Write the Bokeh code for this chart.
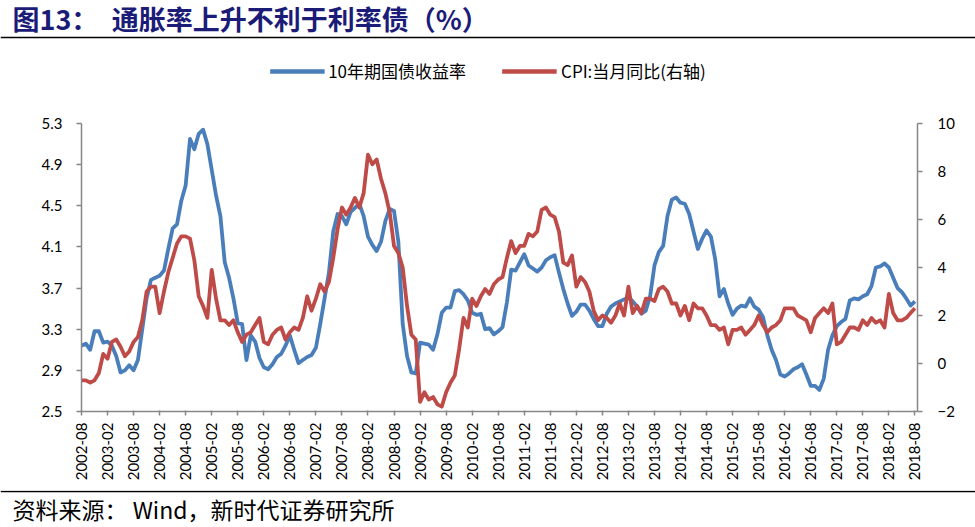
from bokeh.plotting import figure
from bokeh.models import (Range1d, LinearAxis, FixedTicker, Legend, LegendItem, Label, Span)
from bokeh.layouts import column
from bokeh.embed import file_html
from bokeh.resources import INLINE
import math

# ---------------- data ----------------
yield_10y = [
    3.14, 3.16, 3.10, 3.28, 3.28,
    3.17, 3.18, 3.14, 3.04, 2.88, 2.90, 2.95, 2.90, 3.00, 3.30, 3.60, 3.78,
    3.80, 3.82, 3.87, 4.08, 4.28, 4.32, 4.55, 4.70, 5.15, 5.05, 5.20, 5.24,
    5.10, 4.85, 4.60, 4.40, 3.95, 3.80, 3.60, 3.36, 3.35, 3.00, 3.24, 3.18,
    3.02, 2.93, 2.91, 2.96, 3.03, 3.06, 3.14, 3.24, 3.10, 2.97, 3.00, 3.03,
    3.05, 3.12, 3.35, 3.60, 3.85, 4.25, 4.42, 4.40, 4.32, 4.44, 4.48, 4.52,
    4.40, 4.20, 4.12, 4.06, 4.15, 4.35, 4.47, 4.45, 4.15, 3.35, 3.04, 2.88,
    2.87, 3.17, 3.16, 3.15, 3.10, 3.25, 3.46, 3.51, 3.51, 3.67, 3.68, 3.64,
    3.58, 3.46, 3.44, 3.45, 3.30, 3.31, 3.25, 3.28, 3.32, 3.56, 3.88, 3.87,
    3.95, 4.03, 3.92, 3.89, 3.86, 3.90, 3.97, 4.00, 4.02, 3.85, 3.69, 3.55,
    3.43, 3.47, 3.54, 3.54, 3.48, 3.40, 3.33, 3.33, 3.45, 3.52, 3.55, 3.57,
    3.59, 3.61, 3.57, 3.52, 3.45, 3.48, 3.62, 3.92, 4.05, 4.11, 4.40, 4.56,
    4.58, 4.53, 4.52, 4.42, 4.25, 4.08, 4.18, 4.26, 4.20, 3.98, 3.62, 3.69,
    3.55, 3.44, 3.50, 3.53, 3.52, 3.60, 3.52, 3.49, 3.42, 3.24, 3.10, 3.00,
    2.86, 2.84, 2.87, 2.91, 2.93, 2.96, 2.86, 2.75, 2.75, 2.71, 2.82, 3.10,
    3.24, 3.33, 3.37, 3.40, 3.58, 3.60, 3.59, 3.62, 3.64, 3.72, 3.90, 3.91,
    3.94, 3.90, 3.80, 3.70, 3.66, 3.60, 3.53, 3.57,
]
cpi_yoy = [
    -0.7, -0.7, -0.8, -0.7, -0.4,
    0.4, 0.2, 0.9, 1.0, 0.7, 0.3, 0.5, 0.9, 1.1, 1.8, 3.0, 3.2,
    3.2, 2.1, 3.0, 3.8, 4.4, 5.0, 5.3, 5.3, 5.2, 4.3, 2.8, 2.4,
    1.9, 3.9, 2.7, 1.8, 1.8, 1.6, 1.8, 1.3, 0.9, 1.2, 1.3, 1.6,
    1.9, 0.9, 0.8, 1.2, 1.4, 1.5, 1.0, 1.3, 1.5, 1.4, 1.9, 2.8,
    2.2, 2.7, 3.3, 3.0, 3.4, 4.4, 5.6, 6.5, 6.2, 6.5, 6.9, 6.5,
    7.1, 8.7, 8.3, 8.5, 7.7, 7.1, 6.3, 4.9, 4.6, 4.0, 2.4, 1.2,
    1.0, -1.6, -1.2, -1.5, -1.4, -1.7, -1.8, -1.2, -0.8, -0.5, 0.6, 1.9,
    1.5, 2.7, 2.4, 2.8, 3.1, 2.9, 3.3, 3.5, 3.6, 4.4, 5.1, 4.6,
    4.9, 4.9, 5.4, 5.3, 5.5, 6.4, 6.5, 6.2, 6.1, 5.5, 4.2, 4.1,
    4.5, 3.2, 3.6, 3.4, 3.0, 2.2, 1.8, 2.0, 1.9, 1.7, 2.0, 2.5,
    2.0, 3.2, 2.1, 2.4, 2.1, 2.7, 2.7, 2.6, 3.1, 3.2, 3.0, 2.5,
    2.5, 2.0, 2.4, 1.8, 2.5, 2.3, 2.3, 2.0, 1.6, 1.6, 1.4, 1.5,
    0.8, 1.4, 1.4, 1.5, 1.2, 1.4, 1.6, 2.0, 1.6, 1.3, 1.5, 1.6,
    1.8, 2.3, 2.3, 2.3, 2.0, 1.9, 1.8, 1.3, 1.9, 2.1, 2.3, 2.1,
    2.5, 0.8, 0.9, 1.2, 1.5, 1.5, 1.4, 1.8, 1.6, 1.9, 1.7, 1.8,
    1.5, 2.9, 2.1, 1.8, 1.8, 1.9, 2.1, 2.3,
]
x_tick_labels = [
    "2002-08", "2003-02", "2003-08", "2004-02", "2004-08", "2005-02", "2005-08",
    "2006-02", "2006-08", "2007-02", "2007-08", "2008-02", "2008-08", "2009-02",
    "2009-08", "2010-02", "2010-08", "2011-02", "2011-08", "2012-02", "2012-08",
    "2013-02", "2013-08", "2014-02", "2014-08", "2015-02", "2015-08", "2016-02",
    "2016-08", "2017-02", "2017-08", "2018-02", "2018-08",
]
left_ticks = [2.5, 2.9, 3.3, 3.7, 4.1, 4.5, 4.9, 5.3]
right_ticks = [-2, 0, 2, 4, 6, 8, 10]
series_names = ["10年期国债收益率", "CPI:当月同比(右轴)"]
title_text = "图13：\u2002通胀率上升不利于利率债（%）"
source_text = "资料来源： Wind，新时代证券研究所"

months = list(range(len(yield_10y)))
tick_pos = list(range(0, len(yield_10y), 6))

BLUE = "#4A7EBB"
RED = "#BE4B48"
AXIS = "#878787"
FONT = "Lato"
CJK = "Noto Sans CJK SC"
W = 975
HEAD_H = 83
MAIN_H = 407
FOOT_H = 37

# ---------------- header: title, rule, legend ----------------
head = figure(width=W, height=HEAD_H, output_backend="svg", toolbar_location=None,
              x_range=Range1d(0, 1), y_range=Range1d(0, 1),
              x_axis_type=None, y_axis_type=None, frame_align=False,
              min_border_left=0, min_border_right=0, min_border_top=0, min_border_bottom=0)
head.outline_line_color = None
head.grid.visible = False
head.add_layout(Label(x=12, y=HEAD_H - 18, x_units="screen", y_units="screen", text=title_text,
                      text_font=CJK, text_font_style="bold", text_font_size="27px",
                      text_color="#1b1b78", text_baseline="middle", text_align="left"))
head.add_layout(Span(location=HEAD_H - 37, location_units="screen", dimension="width",
                     line_color="#000000", line_width=1.5))
# legend proxies: the same series, lying outside this strip's (0..1) ranges
h1 = head.line(months, yield_10y, line_color=BLUE, line_width=4.5)
h2 = head.line(months, cpi_yoy, line_color=RED, line_width=4.5)
legend = Legend(items=[LegendItem(label=series_names[0], renderers=[h1]),
                       LegendItem(label=series_names[1], renderers=[h2])],
                orientation="horizontal", location="bottom_center",
                glyph_width=55, glyph_height=16, label_standoff=4, spacing=36,
                padding=0, margin=0, border_line_alpha=0, background_fill_alpha=0,
                label_text_font=CJK, label_text_font_size="17px", label_text_color="#000000")
head.add_layout(legend, "center")

# ---------------- main chart ----------------
p = figure(width=W, height=MAIN_H, output_backend="svg", toolbar_location=None,
           x_range=Range1d(0, 192.6), y_range=Range1d(2.5, 5.3), frame_align=False,
           min_border_left=81, min_border_right=58, min_border_top=40, min_border_bottom=79)
p.extra_y_ranges = {"cpi": Range1d(-2, 10)}
p.outline_line_color = None
p.xgrid.visible = False
p.ygrid.visible = False

p.line(months, yield_10y, line_color=BLUE, line_width=3.8, line_join="round")
p.line(months, cpi_yoy, line_color=RED, line_width=3.8, line_join="round", y_range_name="cpi")

xa = p.xaxis[0]
xa.ticker = FixedTicker(ticks=tick_pos)
xa.major_label_overrides = {t: lab for t, lab in zip(tick_pos, x_tick_labels)}
xa.major_label_orientation = math.pi / 2
xa.major_tick_in = 1
xa.major_tick_out = 4
xa.minor_tick_line_color = None
xa.major_label_standoff = 7

ya = p.yaxis[0]
ya.ticker = FixedTicker(ticks=left_ticks)
ya.major_label_overrides = {t: f"{t:.1f}" for t in left_ticks}
ya.major_tick_in = 0
ya.major_tick_out = 5
ya.minor_tick_line_color = None
ya.major_label_standoff = 14

ra = LinearAxis(y_range_name="cpi", ticker=FixedTicker(ticks=right_ticks))
ra.major_tick_in = 0
ra.major_tick_out = 5
ra.minor_tick_line_color = None
ra.major_label_standoff = 15
p.add_layout(ra, "right")

for ax in (xa, ya, ra):
    ax.axis_line_color = AXIS
    ax.axis_line_width = 1.5
    ax.major_tick_line_color = AXIS
    ax.major_tick_line_width = 1.5
    ax.major_label_text_font = FONT
    ax.major_label_text_font_size = "15px"
    ax.major_label_text_color = "#000000"

# ---------------- footer: rule and source ----------------
foot = figure(width=W, height=FOOT_H, output_backend="svg", toolbar_location=None,
              x_range=Range1d(0, 1), y_range=Range1d(0, 1),
              x_axis_type=None, y_axis_type=None, frame_align=False,
              min_border_left=0, min_border_right=0, min_border_top=0, min_border_bottom=0)
foot.outline_line_color = None
foot.grid.visible = False
foot.add_layout(Span(location=FOOT_H - 1, location_units="screen", dimension="width",
                     line_color="#000000", line_width=1.5))
foot.add_layout(Label(x=12, y=19, x_units="screen", y_units="screen", text=source_text,
                      text_font=CJK, text_font_size="23px", text_color="#000000",
                      text_baseline="middle", text_align="left"))

layout = column(head, p, foot)

open("out.html", "w").write(file_html(layout, INLINE))
